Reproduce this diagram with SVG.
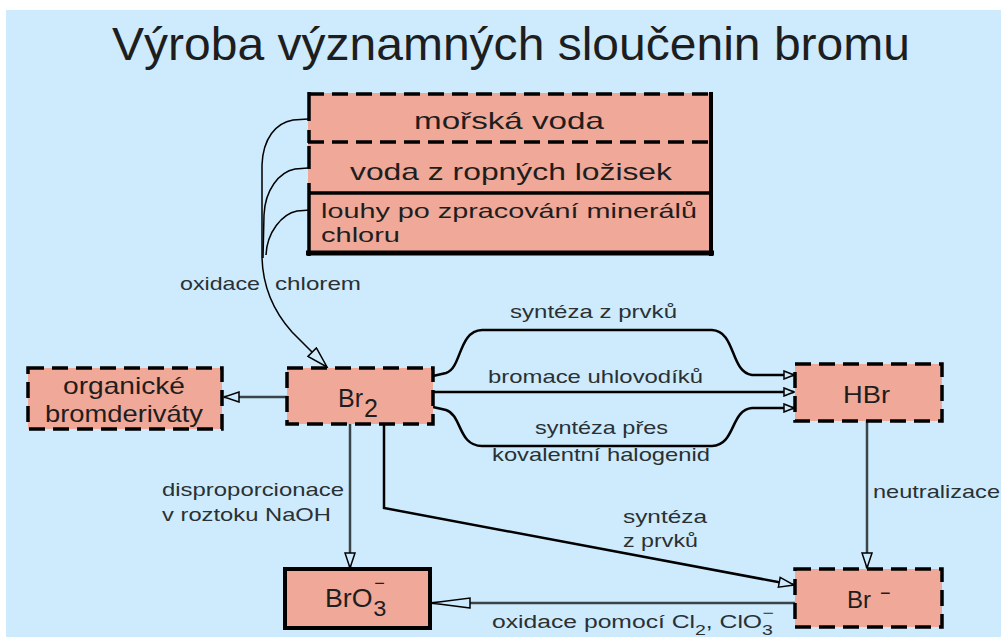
<svg xmlns="http://www.w3.org/2000/svg" width="1001" height="637" viewBox="0 0 1001 637">
<defs>
<style>
.bg{fill:#cdebfd}
.box{fill:#f0a898;stroke:#000;stroke-width:3.5;stroke-dasharray:16 8}
.solid{fill:#f0a898;stroke:#000;stroke-width:4}
text{font-family:"Liberation Sans",Arial,sans-serif;fill:#1e1e1e}
.t{font-size:24px}
.lbl{font-size:19px;fill:#2a3033}
.c{fill:none;stroke:#000;stroke-width:2.5}
.g{fill:none;stroke:#3a4448;stroke-width:2.5}
.thin{fill:none;stroke:#000;stroke-width:1.5}
.edge{stroke:#000;stroke-width:3.5;fill:none}
</style>
<marker id="ah" markerUnits="userSpaceOnUse" markerWidth="18" markerHeight="12" refX="16" refY="6" orient="auto" viewBox="0 0 18 12"><path d="M1,1 L16,6 L1,11 z" fill="#cdebfd" stroke="#000" stroke-width="1.5"/></marker>
<marker id="ahs" markerUnits="userSpaceOnUse" markerWidth="12" markerHeight="10" refX="11" refY="5" orient="auto" viewBox="0 0 12 10"><path d="M1,1 L11,5 L1,9 z" fill="#cdebfd" stroke="#000" stroke-width="1.5"/></marker>
<marker id="ahl" markerUnits="userSpaceOnUse" markerWidth="42" markerHeight="12" refX="40" refY="6" orient="auto" viewBox="0 0 42 12"><path d="M1,1 L40,6 L1,11 z" fill="#cdebfd" stroke="#000" stroke-width="1.5"/></marker>
<marker id="ahb" markerUnits="userSpaceOnUse" markerWidth="24" markerHeight="14" refX="22" refY="7" orient="auto" viewBox="0 0 24 14"><path d="M1,1 L22,7 L1,13 z" fill="#cdebfd" stroke="#000" stroke-width="1.5"/></marker>
</defs>
<rect x="0" y="0" width="1001" height="637" fill="#fff"/>
<rect class="bg" x="6" y="10" width="995" height="627"/>

<g id="title">
<text x="112" y="60" font-size="47" textLength="798" lengthAdjust="spacingAndGlyphs">Výroba významných sloučenin bromu</text>
</g>

<g id="connectors">
<path class="thin" d="M308,119 L293,120 C276,123 263,138 262,165 L262,258 C263,290 275,313 292,332 L327,367" marker-end="url(#ahb)"/>
<path class="thin" d="M308,168 L295,169 C279,172 265,190 264,215 L263,258"/>
<path class="thin" d="M310,210 L297,211 C282,214 267,232 266,255"/>
<line class="g" x1="287" y1="397" x2="224" y2="397" marker-end="url(#ah)"/>
<path class="c" d="M433,376 L446,373 C462,368 458,331 482,330 L712,330 C736,331 730,372 752,375 L794,375" marker-end="url(#ahs)"/>
<line class="c" x1="433" y1="392" x2="794" y2="392" marker-end="url(#ahs)"/>
<path class="c" d="M433,407 L446,410 C462,415 458,446 482,446 L712,446 C736,445 730,410 752,408 L794,408" marker-end="url(#ahs)"/>
<line class="g" x1="350" y1="424" x2="350" y2="568" marker-end="url(#ah)"/>
<path class="c" d="M384,424 L384,508 L794,585" marker-end="url(#ah)"/>
<line class="g" x1="867" y1="421" x2="867" y2="568" marker-end="url(#ah)"/>
<line class="g" x1="795" y1="603" x2="431" y2="603" marker-end="url(#ahl)"/>
</g>

<g id="connector-labels" class="lbl">
<text y="290" class="lbl"><tspan x="180" textLength="80" lengthAdjust="spacingAndGlyphs">oxidace</tspan> <tspan x="275" textLength="86" lengthAdjust="spacingAndGlyphs">chlorem</tspan></text>
<text x="510" y="318" class="lbl" textLength="167" lengthAdjust="spacingAndGlyphs">syntéza z prvků</text>
<text x="488" y="383" class="lbl" textLength="215" lengthAdjust="spacingAndGlyphs">bromace uhlovodíků</text>
<text x="535" y="434" class="lbl" textLength="133" lengthAdjust="spacingAndGlyphs">syntéza přes</text>
<text x="492" y="461" class="lbl" textLength="218" lengthAdjust="spacingAndGlyphs">kovalentní halogenid</text>
<text x="162" y="496" class="lbl" textLength="182" lengthAdjust="spacingAndGlyphs">disproporcionace</text>
<text x="162" y="521" class="lbl" textLength="169" lengthAdjust="spacingAndGlyphs">v roztoku NaOH</text>
<text x="623" y="523" class="lbl" textLength="84" lengthAdjust="spacingAndGlyphs">syntéza</text>
<text x="623" y="547" class="lbl" textLength="75" lengthAdjust="spacingAndGlyphs">z prvků</text>
<text x="873" y="498" class="lbl" textLength="127" lengthAdjust="spacingAndGlyphs">neutralizace</text>
<text class="lbl" transform="translate(492,628) scale(1.3,1)">oxidace pomocí Cl<tspan dy="7" font-size="15">2</tspan><tspan dy="-7">, ClO</tspan><tspan dy="7" font-size="15">3</tspan><tspan x="208" y="-10" font-size="15">−</tspan></text>
</g>

<g id="node-sources">
<rect x="308" y="93" width="404" height="162" fill="#f0a898"/>
<line class="edge" x1="308" y1="94" x2="712" y2="94" stroke-dasharray="16 8"/>
<line class="edge" x1="308" y1="142" x2="712" y2="142" stroke-dasharray="16 8"/>
<line class="edge" x1="308" y1="193" x2="712" y2="193"/>
<line x1="306" y1="253" x2="714" y2="253" stroke="#000" stroke-width="5"/>
<line x1="711" y1="92" x2="711" y2="256" stroke="#000" stroke-width="4"/>
<line class="edge" x1="309" y1="92" x2="309" y2="121"/>
<line class="edge" x1="309" y1="130" x2="309" y2="143"/>
<line class="edge" x1="309" y1="146" x2="309" y2="169"/>
<line class="edge" x1="309" y1="183" x2="309" y2="256"/>
<text x="414" y="129" class="t" textLength="190" lengthAdjust="spacingAndGlyphs">mořská voda</text>
<text x="350" y="180" class="t" textLength="322" lengthAdjust="spacingAndGlyphs">voda z ropných ložisek</text>
<text x="321" y="218" font-size="21" textLength="376" lengthAdjust="spacingAndGlyphs">louhy po zpracování minerálů</text>
<text x="321" y="242" font-size="21" textLength="79" lengthAdjust="spacingAndGlyphs">chloru</text>
</g>

<g id="node-organic">
<rect class="box" x="28" y="368" width="194" height="61"/>
<text x="63" y="394" class="t" textLength="122" lengthAdjust="spacingAndGlyphs">organické</text>
<text x="45" y="422" class="t" textLength="158" lengthAdjust="spacingAndGlyphs">bromderiváty</text>
</g>

<g id="node-br2">
<rect class="box" x="287" y="368" width="146" height="56"/>
<text x="338" y="407" font-size="25">Br<tspan x="364" y="417">2</tspan></text>
</g>

<g id="node-hbr">
<rect class="box" x="795" y="364" width="147" height="57"/>
<text x="843" y="403" class="t" textLength="47" lengthAdjust="spacingAndGlyphs">HBr</text>
</g>

<g id="node-br-ion">
<rect class="box" x="795" y="569" width="147" height="58"/>
<text x="847" y="608" class="t">Br<tspan x="880" y="599" font-size="18">−</tspan></text>
</g>

<g id="node-bro3">
<rect class="solid" x="285" y="569" width="145" height="59"/>
<text font-size="25" transform="translate(325,607) scale(1.07,1)">BrO<tspan x="45" y="9" font-size="22">3</tspan><tspan x="46" y="-18" font-size="17">−</tspan></text>
</g>
</svg>
